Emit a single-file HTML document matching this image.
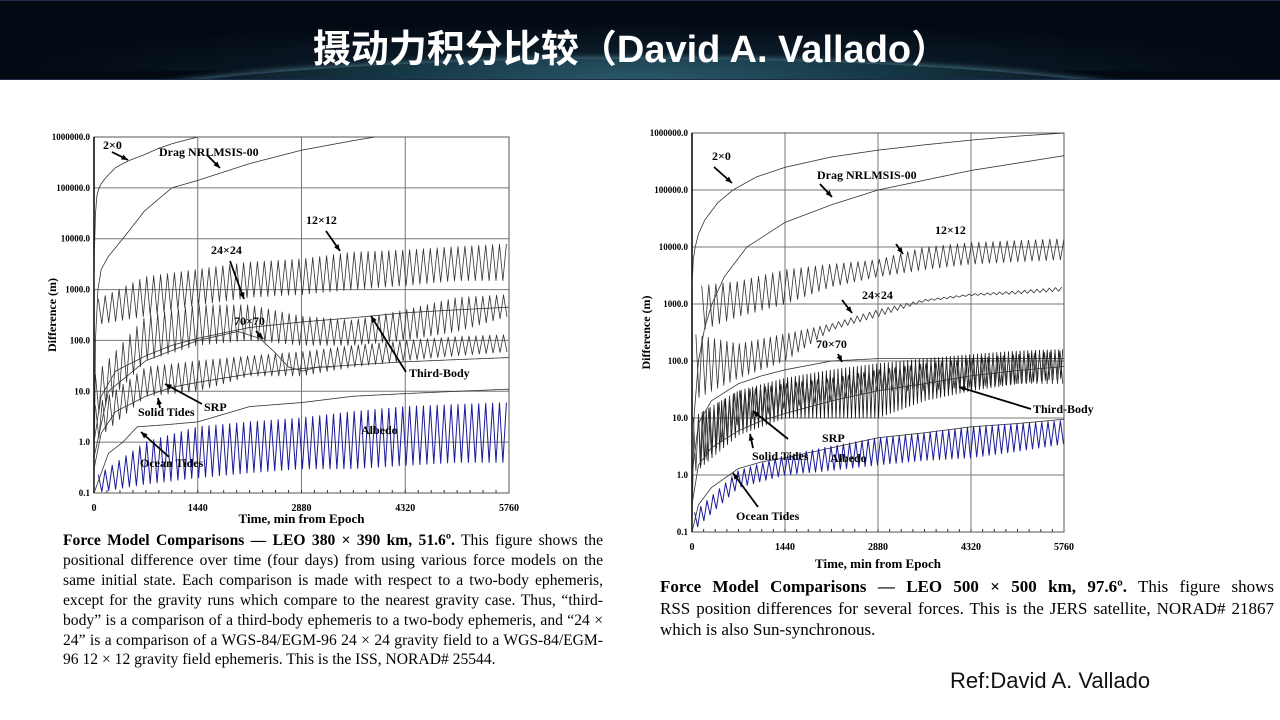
<!DOCTYPE html>
<html><head><meta charset="utf-8">
<style>
html,body{margin:0;padding:0;background:#fff;}
body{width:1280px;height:720px;position:relative;overflow:hidden;font-family:"Liberation Serif",serif;}
#hdr{position:absolute;left:0;top:0;width:1280px;height:80px;background:#030a14;border-top:1px solid #1d2b4a;border-bottom:1px solid #1d2b4a;box-sizing:border-box;overflow:hidden;}
#hdr .arc{position:absolute;left:60px;top:58px;width:1160px;height:120px;border-radius:50%;background:radial-gradient(ellipse at 50% 20%,#2c5a6a 0%,#163846 30%,#07131d 60%,transparent 75%);box-shadow:0 -2px 6px rgba(120,190,210,0.5);}
#hdr .glow{position:absolute;left:0;top:20px;width:1280px;height:50px;background:radial-gradient(ellipse at 50% 100%,rgba(40,90,110,0.35),transparent 70%);}
#title{position:absolute;left:0;width:1262px;top:17px;text-align:center;color:#fff;font:bold 38px "Liberation Sans","Noto Sans CJK SC",sans-serif;}
.cap{position:absolute;font-family:"Liberation Serif",serif;color:#000;text-align:justify;}
#cap1{left:63px;top:531px;width:540px;font-size:15.6px;line-height:19.9px;}
#cap2{left:660px;top:576px;width:614px;font-size:17px;line-height:21.5px;}
#cap2 .l1{display:block;text-align:justify;text-align-last:justify;}
#ref{position:absolute;left:950px;top:668px;font:22px "Liberation Sans",sans-serif;color:#111;}
svg{position:absolute;left:0;top:0;}
</style></head><body>
<div id="hdr"><div class="glow"></div><div class="arc"></div>
<div id="title">摄动力积分比较（David A. Vallado）</div></div>
<svg id="chart" width="1280" height="720"></svg>
<div class="cap" id="cap1"><b>Force Model Comparisons — LEO 380 × 390 km, 51.6º.</b> This figure shows the positional difference over time (four days) from using various force models on the same initial state. Each comparison is made with respect to a two-body ephemeris, except for the gravity runs which compare to the nearest gravity case. Thus, “third-body” is a comparison of a third-body ephemeris to a two-body ephemeris, and “24 × 24” is a comparison of a WGS-84/EGM-96 24 × 24 gravity field to a WGS-84/EGM-96 12 × 12 gravity field ephemeris. This is the ISS, NORAD# 25544.</div>
<div class="cap" id="cap2"><span class="l1"><b>Force Model Comparisons — LEO 500 × 500 km, 97.6º.</b> This figure shows</span>RSS position differences for several forces. This is the JERS satellite, NORAD# 21867 which is also Sun-synchronous.</div>
<div id="ref">Ref:David A. Vallado</div>
<script>
// ---- shared axis data ----
const xTicks=[0,1440,2880,4320,5760];
const yTicks=[0.1,1,10,100,1000,10000,100000,1000000];
const yTickLabels=["0.1","1.0","10.0","100.0","1000.0","10000.0","100000.0","1000000.0"];
// ---- left chart (LEO 380x390) ----
const L_t=[0,720,1440,2160,2880,3600,4320,5040,5760];
const L_2x0_t=[0,5,10,20,40,70,100,150,200,300,400,500,700,900,1100,1440];
const L_2x0_v=[1000,5000,10000,30000,70000,100000,120000,150000,180000,250000,300000,350000,450000,600000,750000,1000000];
const L_drag_t=[0,20,55,100,200,400,700,1080,1440,2160,2880,3600,3900];
const L_drag_v=[0.1,100,1000,2500,4500,10000,35000,100000,140000,300000,550000,850000,1000000];
const L_12_hi=[600,1800,2500,3500,4000,5500,6000,7000,8000];
const L_12_lo=[200,300,500,700,800,1000,1200,1500,1500];
const L_24_hi=[20,300,500,500,300,250,400,700,800];
const L_24_lo=[3,40,80,100,80,80,100,150,300];
const L_third_t=[0,100,300,720,1080,1440,2160,2880,3600,4320,5040,5760];
const L_third_v=[1,8,25,50,80,110,180,230,280,350,400,450];
const L_srp_hi=[5,30,40,50,60,80,100,120,130];
const L_srp_lo=[1,8,10,20,20,30,40,50,60];
const L_solid_t=[0,100,300,720,1080,1440,2160,2880,3600,4320,5040,5760];
const L_solid_v=[0.3,1.5,4,8,12,15,22,28,33,38,42,46];
const L_ocean_t=[0,200,400,600,1000,1440,2160,2880,3600,4320,5040,5760];
const L_ocean_v=[0.1,0.6,1,2,2.2,2.5,5,6,8,9,10,11];
const L_alb_hi=[0.2,1,2,2.5,3,4,5,5.5,6];
const L_alb_lo=[0.1,0.15,0.2,0.25,0.3,0.3,0.35,0.4,0.4];
const L_70_t=[0,200,720,1440,2000,2300,2500,2700,2900,3100,3300];
const L_70_v=[0.5,10,40,100,150,110,60,30,25,30,30];
// ---- right chart (LEO 500x500) ----
const R_2x0_t=[0,20,50,100,200,400,635,1000,1440,2160,2880,3600,4320,5040,5760];
const R_2x0_v=[2000,6000,10000,17000,30000,60000,100000,170000,250000,380000,500000,620000,750000,880000,1000000];
const R_drag_t=[0,30,100,200,310,500,850,1440,2160,2880,4320,5760];
const R_drag_v=[0.1,10,100,400,1000,3000,10000,27000,55000,100000,220000,400000];
const R_12_hi=[2000,2500,4000,5000,6000,10000,12000,13000,14000];
const R_12_lo=[300,600,1000,2000,3000,4000,5000,5500,6000];
const R_24_hi=[300,200,300,450,800,1200,1500,1700,2000];
const R_24_lo=[20,50,100,350,600,1100,1400,1500,1700];
const R_third_hi=[10,30,50,70,90,110,130,150,160];
const R_third_lo=[1,5,10,10,10,20,30,40,50];
const R_srp_hi=[10,30,40,50,70,90,110,130,150];
const R_srp_lo=[1,8,15,20,30,30,35,40,40];
const R_solid_t=[0,100,300,720,1080,1440,2160,2880,3600,4320,5040,5760];
const R_solid_v=[0.3,1.5,3,6,9,12,20,30,40,55,68,80];
const R_70_t=[0,100,300,720,1080,1440,2160,2880,3600,4320,5040,5760];
const R_70_v=[1,8,20,40,55,70,100,110,110,110,110,110];
const R_ocean_t=[0,100,300,720,1080,1440,2160,2880,3600,4320,5040,5760];
const R_ocean_v=[0.1,0.3,0.6,1.3,1.7,2,3,4.5,5.5,7,8,9.5];
const R_alb_hi=[0.2,1.2,2.2,3.2,4.5,5.5,7,8,9];
const R_alb_lo=[0.1,0.6,1,1.2,1.5,1.8,2,2.6,3.5];

const NS="http://www.w3.org/2000/svg";
const svg=document.getElementById('chart');
function mk(tag,attrs,parent){const e=document.createElementNS(NS,tag);for(const k in attrs)e.setAttribute(k,attrs[k]);(parent||svg).appendChild(e);return e;}
function interp(ts,vs,t){if(t<=ts[0])return Math.log10(vs[0]);for(let i=1;i<ts.length;i++){if(t<=ts[i]){const f=(t-ts[i-1])/(ts[i]-ts[i-1]);return Math.log10(vs[i-1])*(1-f)+Math.log10(vs[i])*f;}}return Math.log10(vs[vs.length-1]);}

function drawChart(id,C,series,labels){
  const xs=t=>C.x0+(t/5760)*(C.x1-C.x0);
  const dec=(C.yb-C.yt)/7;
  const ys=v=>C.yt+(6-Math.log10(v))*dec;
  const g=mk('g',{});
  
  
  const cp=mk('clipPath',{id:id+'-clip'},g);mk('rect',{x:C.x0,y:C.yt,width:C.x1-C.x0,height:C.yb-C.yt},cp);
  yTicks.forEach((v,i)=>{const y=ys(v);const l=mk('line',{x1:C.x0,x2:C.x1,y1:y,y2:y,stroke:'#777','stroke-width':1},g);
    
    const tx=mk('text',{x:C.x0-4,y:y+3,'text-anchor':'end','font-size':C.fs,'font-weight':'bold','font-family':'Liberation Serif, serif'},g);tx.textContent=yTickLabels[i];
    });
  xTicks.forEach(t=>{const x=xs(t);const l=mk('line',{x1:x,x2:x,y1:C.yt,y2:C.yb,stroke:'#777','stroke-width':1},g);
    
    const tx=mk('text',{x:x,y:C.yb+C.xtk,'text-anchor':'middle','font-size':C.fs+1,'font-weight':'bold','font-family':'Liberation Serif, serif'},g);tx.textContent=t;
    });
  for(let t=0;t<=5760;t+=180){mk('line',{x1:xs(t),x2:xs(t),y1:C.yb,y2:C.yb-3,stroke:'#333'},g);}
  mk('rect',{x:C.x0,y:C.yt,width:C.x1-C.x0,height:C.yb-C.yt,fill:'none',stroke:'#555'},g);
  mk('line',{x1:C.x0,x2:C.x0,y1:C.yt,y2:C.yb,stroke:'#000','stroke-width':1.5},g);
  const yt=mk('text',{transform:`translate(${C.x0-C.ylOff},${(C.yt+C.yb)/2}) rotate(-90)`,'text-anchor':'middle','font-size':C.fs+3,'font-weight':'bold','font-family':'Liberation Serif, serif'},g);yt.textContent='Difference (m)';
  
  const xt=mk('text',{x:(C.x0+C.x1)/2,y:C.yb+C.xtOff,'text-anchor':'middle','font-size':C.fs+4,'font-weight':'bold','font-family':'Liberation Serif, serif'},g);xt.textContent='Time, min from Epoch';
  
  const sg=mk('g',{'clip-path':`url(#${id}-clip)`},g);
  series.forEach(s=>{
    let pts=[];
    if(s.hi){
      let k=0;for(let t=s.t0||0;t<=(s.t1||5760);t+=s.P/2,k++){
        const v=k%2?interp(L_t,s.lo,t):interp(L_t,s.hi,t);pts.push([xs(t),C.yt+(6-v)*dec]);}
    } else {
      for(let t=s.ts[0];t<=s.ts[s.ts.length-1];t+=4){pts.push([xs(t),C.yt+(6-interp(s.ts,s.vs,t))*dec]);}
    }
    const p=mk('polyline',{points:pts.map(q=>q[0].toFixed(1)+','+q[1].toFixed(1)).join(' '),fill:'none',stroke:s.c||'#333','stroke-width':s.w||0.8,'stroke-linejoin':'round'},sg);
    
  });
  labels.forEach(lb=>{
    const tx=mk('text',{x:lb[1],y:lb[2],'font-size':C.fs+3,'font-weight':'bold','font-family':'Liberation Serif, serif'},g);tx.textContent=lb[0];
    
    if(lb[3]){const a=lb[3];mk('line',{x1:a[0],y1:a[1],x2:a[2],y2:a[3],stroke:'#000','stroke-width':1.8},g);
      const ang=Math.atan2(a[3]-a[1],a[2]-a[0]);const h=7;
      mk('polygon',{points:`${a[2]},${a[3]} ${a[2]-h*Math.cos(ang-0.4)},${a[3]-h*Math.sin(ang-0.4)} ${a[2]-h*Math.cos(ang+0.4)},${a[3]-h*Math.sin(ang+0.4)}`,fill:'#000'},g);}
  });
}
drawChart('left-chart',{x0:94,x1:509,yt:137,yb:493,fs:9,ylOff:38,xtk:18,xtOff:30},[
 {name:'series-2x0',ts:L_2x0_t,vs:L_2x0_v},
 {name:'series-drag',ts:L_drag_t,vs:L_drag_v},
 {name:'series-12x12',hi:L_12_hi,lo:L_12_lo,P:96,t0:60},
 {name:'series-24x24',hi:L_24_hi,lo:L_24_lo,P:96,t0:20},
 {name:'series-70x70',ts:L_70_t,vs:L_70_v},
 {name:'series-third-body',ts:L_third_t,vs:L_third_v},
 {name:'series-srp',hi:L_srp_hi,lo:L_srp_lo,P:96,t0:20},
 {name:'series-solid-tides',ts:L_solid_t,vs:L_solid_v},
 {name:'series-ocean-tides',ts:L_ocean_t,vs:L_ocean_v},
 {name:'series-albedo',hi:L_alb_hi,lo:L_alb_lo,P:96,t0:60,c:'#1a1a9a',w:1}
],[
 ['2×0',103,149,[112,152,128,160]],
 ['Drag NRLMSIS-00',159,156,[207,155,220,168]],
 ['12×12',306,224,[326,231,340,251]],
 ['24×24',211,254,[230,261,244,299]],
 ['70×70',234,325,[256,331,263,339]],
 ['Third-Body',409,377,[406,372,371,316]],
 ['SRP',204,411,[202,404,165,384]],
 ['Solid Tides',138,416,[160,408,158,398]],
 ['Albedo',361,434],
 ['Ocean Tides',140,467,[169,457,141,432]]
]);
drawChart('right-chart',{x0:692,x1:1064,yt:133,yb:532,fs:9,ylOff:42,xtk:18,xtOff:36},[
 {name:'series-2x0',ts:R_2x0_t,vs:R_2x0_v},
 {name:'series-drag',ts:R_drag_t,vs:R_drag_v},
 {name:'series-12x12',hi:R_12_hi,lo:R_12_lo,P:110,t0:150},
 {name:'series-24x24',hi:R_24_hi,lo:R_24_lo,P:96,t0:60},
 {name:'series-70x70',ts:R_70_t,vs:R_70_v},
 {name:'series-third-body',hi:R_third_hi,lo:R_third_lo,P:60,t0:100,c:'#111'},
 {name:'series-srp',hi:R_srp_hi,lo:R_srp_lo,P:80,t0:20},
 {name:'series-solid-tides',ts:R_solid_t,vs:R_solid_v},
 {name:'series-ocean-tides',ts:R_ocean_t,vs:R_ocean_v},
 {name:'series-albedo',hi:R_alb_hi,lo:R_alb_lo,P:96,t0:40,c:'#1a1a9a',w:1}
],[
 ['2×0',712,160,[714,167,732,183]],
 ['Drag NRLMSIS-00',817,179,[820,184,832,197]],
 ['12×12',935,234,[896,244,903,254]],
 ['24×24',862,299,[842,300,852,313]],
 ['70×70',816,348,[838,354,842,362]],
 ['Third-Body',1033,413,[1031,409,959,387]],
 ['SRP',822,442,[788,439,753,411]],
 ['Solid Tides',752,460,[753,448,750,434]],
 ['Albedo',830,462],
 ['Ocean Tides',736,520,[758,507,733,473]]
]);
</script>
</body></html>
